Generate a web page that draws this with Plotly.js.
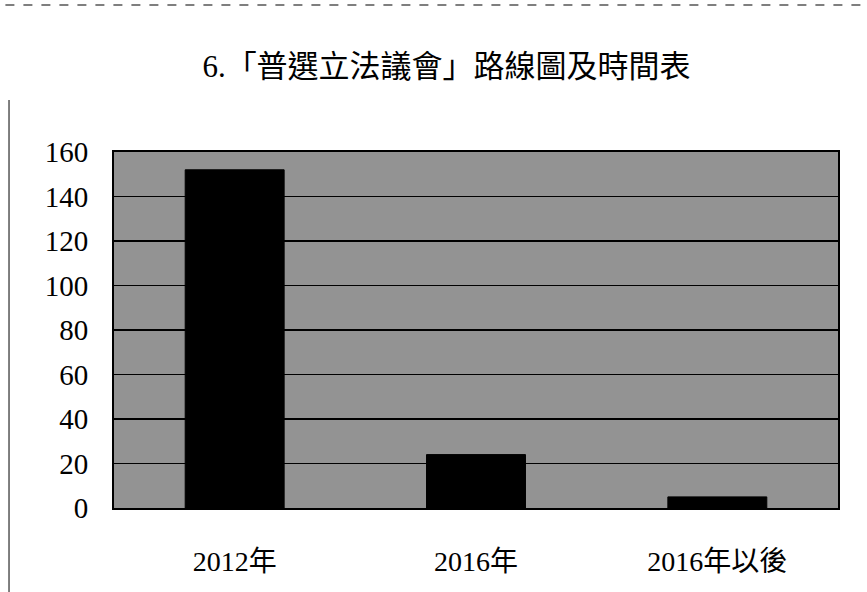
<!DOCTYPE html>
<html><head><meta charset="utf-8">
<script src="https://cdn.plot.ly/plotly-3.0.1.min.js"></script>
<style>html,body{margin:0;padding:0;background:#fff;}#chart{width:867px;height:592px;}</style>
</head><body><div id="chart"></div>
<script>
const categories = ["2012年", "2016年", "2016年以後"];
const values = [152, 24, 5];
const yTicks = [0, 20, 40, 60, 80, 100, 120, 140, 160];
const titleText = "6.「普選立法議會」路線圖及時間表";

const FONT = "'Liberation Serif', 'Times New Roman', 'Noto Sans CJK TC', serif";

const trace = {
  type: "bar",
  x: categories,
  y: values,
  marker: {color: "#000000", line: {color: "#000000", width: 1}},
  hoverinfo: "skip"
};

const layout = {
  width: 867, height: 592,
  margin: {l: 114, r: 29, t: 152, b: 84, pad: 0},
  paper_bgcolor: "#ffffff",
  plot_bgcolor: "#939393",
  bargap: 0.59,
  showlegend: false,
  title: {text: titleText, x: 0.515, xanchor: "center", y: 0.888, yanchor: "middle",
          font: {family: FONT, size: 31, color: "#000"}},
  xaxis: {
    type: "category",
    showgrid: false, zeroline: false,
    showline: true, linecolor: "#000", linewidth: 2, mirror: true,
    ticks: "", ticklabelstandoff: 27,
    tickfont: {family: FONT, size: 28, color: "#000"}
  },
  yaxis: {
    range: [0, 160],
    tickvals: yTicks,
    ticktext: yTicks.map(String),
    showgrid: true, gridcolor: "#000", gridwidth: 1.5,
    zeroline: false,
    showline: true, linecolor: "#000", linewidth: 2, mirror: true,
    ticks: "", ticklabelstandoff: 18,
    tickfont: {family: FONT, size: 29, color: "#000"}
  },
  shapes: [
    {type: "line", xref: "paper", yref: "paper", x0: -0.15, x1: 1.035, y0: 1.413, y1: 1.413,
     line: {color: "#555", width: 1.5, dash: "dash"}},
    {type: "line", xref: "paper", yref: "paper", x0: -0.145, x1: -0.145, y0: -0.24, y1: 1.146,
     line: {color: "#555", width: 1.5}}
  ]
};

Plotly.newPlot("chart", [trace], layout, {displayModeBar: false, staticPlot: true});
</script>
</body></html>
